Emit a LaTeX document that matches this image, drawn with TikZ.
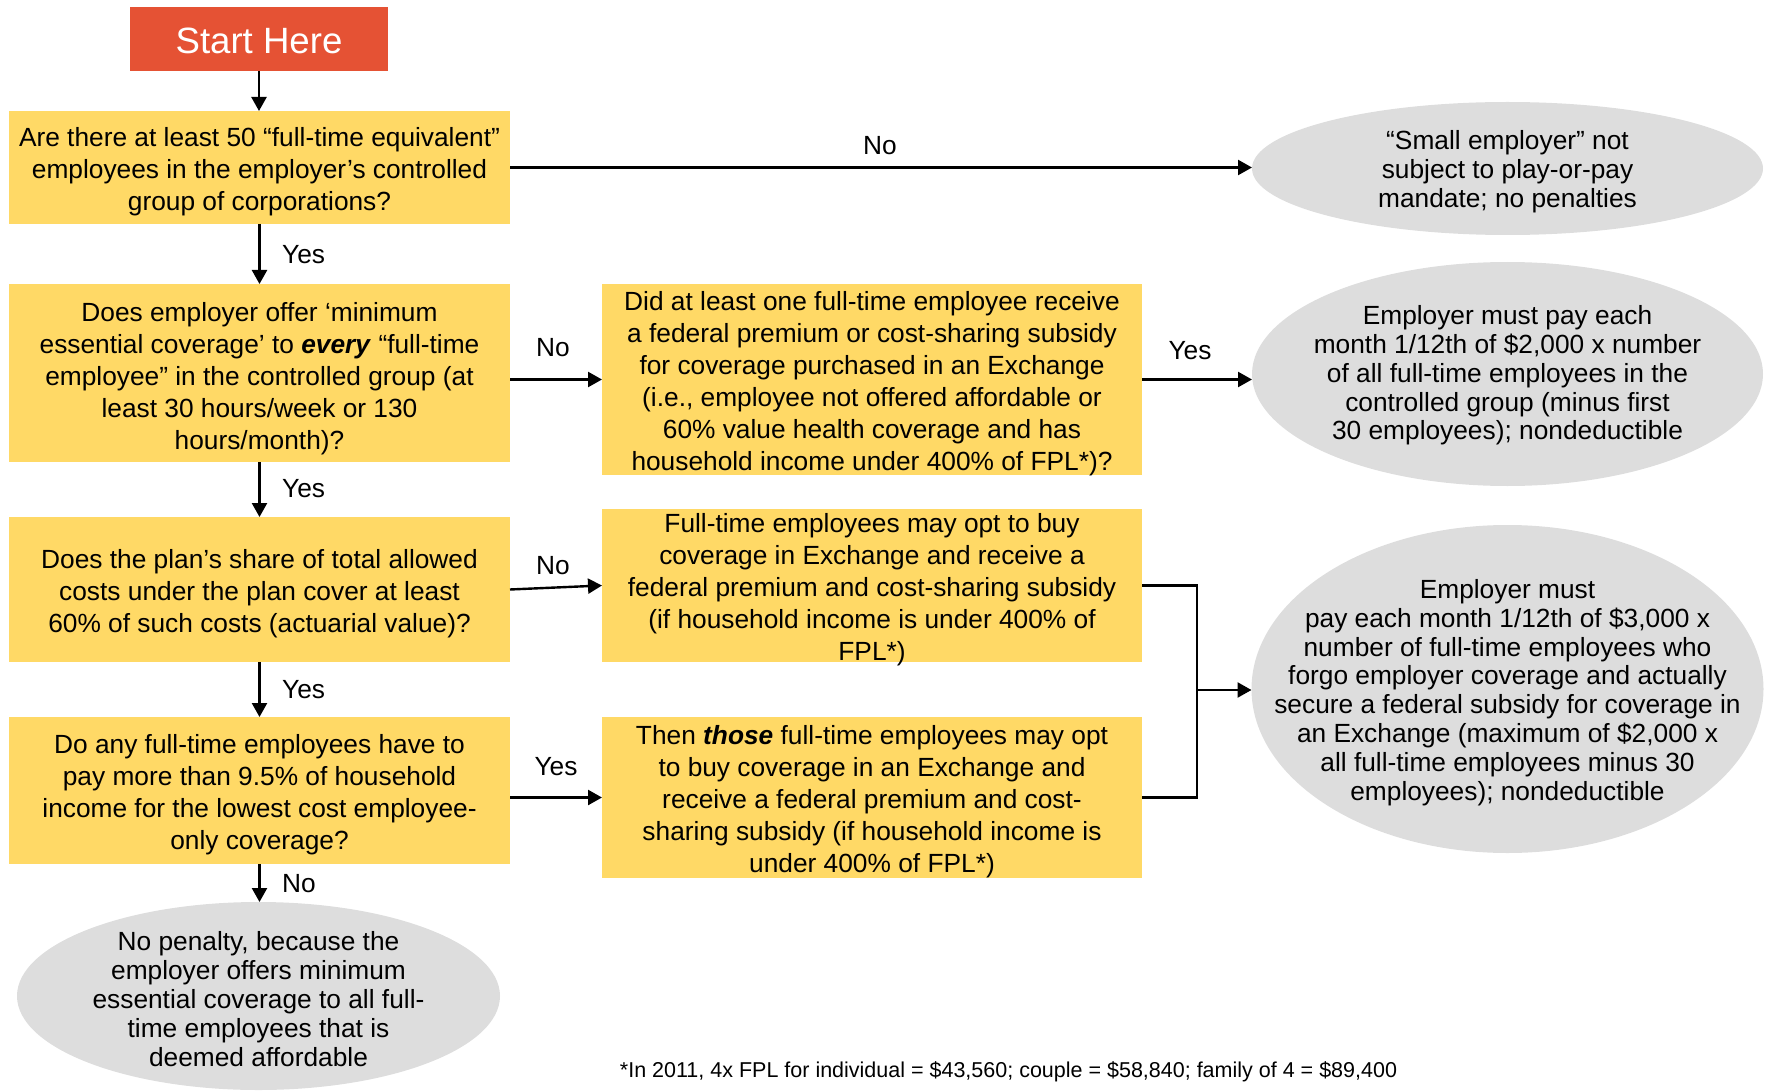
\documentclass[tikz,border=0pt]{standalone}
\usepackage{fontspec}
\setmainfont{Liberation Sans}
\usetikzlibrary{shapes.geometric,arrows.meta,calc}
\definecolor{ybg}{RGB}{255,217,102}
\definecolor{startred}{RGB}{229,82,52}
\definecolor{gbg}{RGB}{221,221,221}
\begin{document}
\begin{tikzpicture}[x=1pt,y=-1pt,
  ybox/.style={fill=ybg, inner sep=0pt, outer sep=0pt},
  btext/.style={align=center, inner sep=0pt, font=\fontsize{26.3}{32}\selectfont},
  gell/.style={ellipse, fill=gbg, inner sep=0pt, outer sep=0pt},
  etext/.style={align=center, inner sep=0pt, font=\fontsize{26.3}{28.8}\selectfont},
  lbl/.style={font=\fontsize{26.3}{30}\selectfont, inner sep=0pt},
  arr/.style={line width=2.4pt, -{Triangle[length=14pt,width=15pt]}},
  ln/.style={line width=2.4pt}]

\useasboundingbox (0,0) rectangle (1769,1091);

% start
\node[fill=startred, minimum width=258pt, minimum height=64pt, inner sep=0pt, outer sep=0pt] (start) at (259,39) {};
\node[text=white, inner sep=0pt, font=\fontsize{36.6}{40}\selectfont] (startt) at (259,40.5) {Start Here};

% left column
\node[ybox, minimum width=501pt, minimum height=113pt] (q1) at (259.5,167.5) {};
\node[btext] (q1t) at (259.5,172) {Are there at least 50 “full-time equivalent”\\employees in the employer’s controlled\\group of corporations?};
\node[ybox, minimum width=501pt, minimum height=178pt] (q2) at (259.5,373) {};
\node[btext] (q2t) at (259.5,378.5) {Does employer offer ‘minimum\\essential coverage’ to \textbf{\textit{every}} “full-time\\employee” in the controlled group (at\\least 30 hours/week or 130\\hours/month)?};
\node[ybox, minimum width=501pt, minimum height=145pt] (q3) at (259.5,589.5) {};
\node[btext] (q3t) at (259.5,594) {Does the plan’s share of total allowed\\costs under the plan cover at least\\60\% of such costs (actuarial value)?};
\node[ybox, minimum width=501pt, minimum height=147pt] (q4) at (259.5,790.5) {};
\node[btext] (q4t) at (259.5,795) {Do any full-time employees have to\\pay more than 9.5\% of household\\income for the lowest cost employee-\\only coverage?};

% middle column
\node[ybox, minimum width=540pt, minimum height=191pt] (a) at (872,379.5) {};
\node[btext] (at) at (872,384) {Did at least one full-time employee receive\\a federal premium or cost-sharing subsidy\\for coverage purchased in an Exchange\\(i.e., employee not offered affordable or\\60\% value health coverage and has\\household income under 400\% of FPL*)?};
\node[ybox, minimum width=540pt, minimum height=153pt] (b) at (872,585.5) {};
\node[btext] (bt) at (872,590) {Full-time employees may opt to buy\\coverage in Exchange and receive a\\federal premium and cost-sharing subsidy\\(if household income is under 400\% of\\FPL*)};
\node[ybox, minimum width=540pt, minimum height=161pt] (c) at (872,797.5) {};
\node[btext] (ct) at (872,801.5) {Then \textbf{\textit{those}} full-time employees may opt\\to buy coverage in an Exchange and\\receive a federal premium and cost-\\sharing subsidy (if household income is\\under 400\% of FPL*)};

% ellipses
\node[gell, minimum width=511pt, minimum height=133pt] (e1) at (1507.5,168.5) {};
\node[etext] (e1t) at (1507.5,171.5) {“Small employer” not\\subject to play-or-pay\\mandate; no penalties};
\node[gell, minimum width=511pt, minimum height=224pt] (e2) at (1507.5,374) {};
\node[etext] (e2t) at (1507.5,375.5) {Employer must pay each\\month 1/12th of \$2,000 x number\\of all full-time employees in the\\controlled group (minus first\\30 employees); nondeductible};
\node[gell, minimum width=512pt, minimum height=328pt] (e3) at (1507.5,689) {};
\node[etext] (e3t) at (1507.5,692.5) {Employer must\\pay each month 1/12th of \$3,000 x\\number of full-time employees who\\forgo employer coverage and actually\\secure a federal subsidy for coverage in\\an Exchange (maximum of \$2,000 x\\all full-time employees minus 30\\employees); nondeductible};
\node[gell, minimum width=483pt, minimum height=188pt] (e4) at (258.5,996) {};
\node[etext] (e4t) at (258.5,999) {No penalty, because the\\employer offers minimum\\essential coverage to all full-\\time employees that is\\deemed affordable};

% footnote
\node[inner sep=0pt, font=\fontsize{21.5}{24}\selectfont] (fn) at (1008.5,1071.5)
  {*In 2011, 4x FPL for individual = \$43,560; couple = \$58,840; family of 4 = \$89,400};

% connectors
\draw[arr] (start.south) -- (start.south |- q1.north);
\draw[arr] (q1.south) -- (q2.north);
\draw[arr] (q2.south) -- (q3.north);
\draw[arr] (q3.south) -- (q4.north);
\draw[arr] (q4.south) -- (q4.south |- e4.north);
\draw[arr] (q1.east) -- (q1.east -| e1.west);
\draw[arr] (q2.east |- a.west) -- (a.west);
\draw[arr] (a.east) -- (a.east -| e2.west);
\draw[arr] (q3.east) -- (b.west);
\draw[arr] (q4.east |- c.west) -- (c.west);
\coordinate (j) at (1197,690);
\draw[ln] (b.east) -- (b.east -| j) -- (c.east -| j) -- (c.east);
\draw[arr] (j) -- (j -| e3.west);

% labels
\node[lbl] (l1) at (880,146) {No};
\node[lbl, anchor=west] (l2) at (282,254.5) {Yes};
\node[lbl, anchor=west] (l3) at (282,488.5) {Yes};
\node[lbl, anchor=west] (l4) at (282,689.5) {Yes};
\node[lbl, anchor=west] (l5) at (282,883.5) {No};
\node[lbl] (l6) at (553,347.5) {No};
\node[lbl] (l7) at (1190,350.5) {Yes};
\node[lbl] (l8) at (553,565.5) {No};
\node[lbl] (l9) at (556,766.5) {Yes};
\end{tikzpicture}
\end{document}
